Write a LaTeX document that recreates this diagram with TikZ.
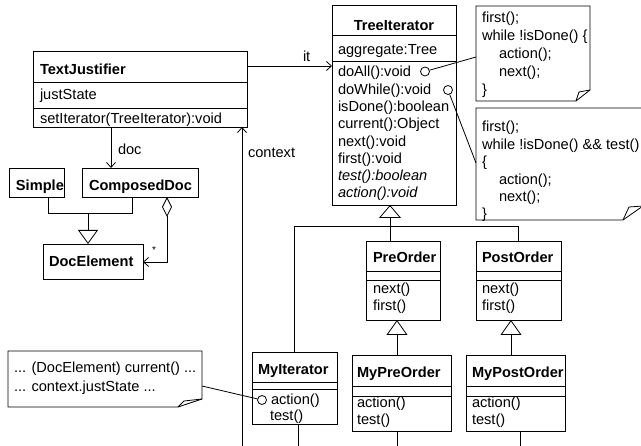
\documentclass[tikz,border=0pt]{standalone}
\usepackage{fontspec}
\setmainfont{Liberation Sans}
\usetikzlibrary{arrows.meta,fit}
\newcommand\umlfont{\fontsize{14.6}{17.5}\selectfont}
\newcommand\classrule[2]{\draw[conn] (#1.west |- 0,#2) -- (#1.east |- 0,#2);}
\begin{document}
\begin{tikzpicture}[x=1pt,y=-1pt,
  every node/.style={font=\umlfont},
  conn/.style={line width=0.8pt, draw=black},
  cls/.style={draw=black, line width=0.8pt, inner sep=0pt, outer sep=0pt},
  spot/.style={inner sep=0pt, outer sep=0pt},
  lbl/.style={anchor=base west, inner sep=0pt, outer sep=0pt},
  ttl/.style={lbl, font=\umlfont\bfseries},
  itl/.style={lbl, font=\umlfont\itshape},
  hook/.style={circle, draw=black, line width=0.8pt, minimum size=9pt, inner sep=0pt},
  vee/.style={conn, -{Straight Barb[length=5pt,width=9pt]}},
  inh/.style={conn, -{Triangle[open,length=13pt,width=22pt]}},
  agg/.style={conn, {Diamond[open,length=20pt,width=10pt]}-{Straight Barb[length=5pt,width=9pt]}}
]
\fill[white] (0,0) rectangle (641,446);
\useasboundingbox (0,0) rectangle (641,446);

% ---------- TextJustifier ----------
\node[cls, fit={(33,51)(247,127)}] (tj) {};
\classrule{tj}{82}
\classrule{tj}{108}
\node[ttl] (tj-name) at (40,75) {TextJustifier};
\node[lbl] (tj-attr) at (40,100) {justState};
\node[lbl] (tj-op) at (40,124) {setIterator(TreeIterator):void};

% ---------- TreeIterator ----------
\node[cls, fit={(332,5)(456,205)}] (ti) {};
\classrule{ti}{35}
\classrule{ti}{61}
\node[ttl, anchor=base] (ti-name) at (394,31) {TreeIterator};
\node[lbl] (ti-attr) at (338,55) {aggregate:Tree};
\node[lbl] (ti-m1) at (338,77) {doAll():void};
\node[lbl] (ti-m2) at (338,94.3) {doWhile():void};
\node[lbl] (ti-m3) at (338,111.6) {isDone():boolean};
\node[lbl] (ti-m4) at (338,128.9) {current():Object};
\node[lbl] (ti-m5) at (338,146.2) {next():void};
\node[lbl] (ti-m6) at (338,163.5) {first():void};
\node[itl] (ti-m7) at (338,180.8) {test():boolean};
\node[itl] (ti-m8) at (338,198) {action():void};
\node[hook] (c1) at (425,71.5) {};
\node[hook] (c2) at (448,90) {};

% ---------- document classes ----------
\node[cls, fit={(9,168)(64,197)}] (si) {};
\node[ttl] (si-name) at (16,191) {Simple};
\node[cls, fit={(82,168)(198,197)}] (cd) {};
\node[ttl] (cd-name) at (89,191) {ComposedDoc};
\node[cls, fit={(43,244)(143,279)}] (de) {};
\node[ttl] (de-name) at (49,267) {DocElement};

% ---------- PreOrder / PostOrder ----------
\node[cls, fit={(366,241)(440,320)}] (pre) {};
\classrule{pre}{271}
\classrule{pre}{280}
\node[ttl] (pre-name) at (373,263) {PreOrder};
\node[lbl] (pre-m1) at (373,294) {next()};
\node[lbl] (pre-m2) at (373,311) {first()};

\node[cls, fit={(476,241)(561,320)}] (post) {};
\classrule{post}{271}
\classrule{post}{280}
\node[ttl] (post-name) at (482,263) {PostOrder};
\node[lbl] (post-m1) at (482,294) {next()};
\node[lbl] (post-m2) at (482,311) {first()};

% ---------- concrete iterators ----------
\node[cls, fit={(252,352)(337,424)}] (mit) {};
\classrule{mit}{382}
\classrule{mit}{389}
\node[ttl] (mit-name) at (258,375) {MyIterator};
\node[lbl] (mit-m1) at (271,405) {action()};
\node[lbl] (mit-m2) at (270,421) {test()};
\node[hook] (c3) at (262,400) {};

\node[cls, fit={(352,355)(451,431)}] (mpre) {};
\classrule{mpre}{386}
\classrule{mpre}{396}
\node[ttl] (mpre-name) at (357,378) {MyPreOrder};
\node[lbl] (mpre-m1) at (357,408) {action()};
\node[lbl] (mpre-m2) at (357,425) {test()};

\node[cls, fit={(466,355)(565,431)}] (mpost) {};
\classrule{mpost}{386}
\classrule{mpost}{396}
\node[ttl] (mpost-name) at (472,378) {MyPostOrder};
\node[lbl] (mpost-m1) at (472,408) {action()};
\node[lbl] (mpost-m2) at (472,425) {test()};

% ---------- notes ----------
\node[spot, fit={(476,6)(590,101)}] (n1) {};
\draw[conn] (476,6) -- (590,6) -- (590,90) -- (576,101) -- (476,101) -- cycle;
\draw[conn] (590,90) -- (579,92) -- (576,101);
\node[lbl] (n1-l1) at (482,23) {first();};
\node[lbl] (n1-l2) at (482,41) {while !isDone() \{};
\node[lbl] (n1-l3) at (499,59) {action();};
\node[lbl] (n1-l4) at (499,77) {next();};
\node[lbl] (n1-l5) at (482,95) {\}};

\node[spot, fit={(476,108)(643,220)}] (n2) {};
\draw[conn] (476,108) -- (643,108) -- (643,206) -- (623,220) -- (476,220) -- cycle;
\draw[conn] (643,206) -- (629,207) -- (623,220);
\node[lbl] (n2-l1) at (482,132) {first();};
\node[lbl] (n2-l2) at (482,149.5) {while !isDone() \&\& test()};
\node[lbl] (n2-l3) at (482,167) {\{};
\node[lbl] (n2-l4) at (499,184.5) {action();};
\node[lbl] (n2-l5) at (499,202) {next();};
\node[lbl] (n2-l6) at (482,218.5) {\}};

\node[spot, fit={(8,351)(202,407)}] (n3) {};
\draw[conn] (8,351) -- (202,351) -- (202,399) -- (178,407) -- (8,407) -- cycle;
\draw[conn] (202,399) -- (184,401) -- (178,407);
\node[lbl] (n3-l1) at (14,373) {... (DocElement) current() ...};
\node[lbl] (n3-l2) at (14,392) {... context.justState ...};

% ---------- associations ----------
\draw[vee] (tj.east |- 0,66) -- (ti.west |- 0,66);
\node[lbl] (lab-it) at (303,62) {it};

\draw[vee] (tj.south -| 111,0) -- (cd.north -| 111,0);
\node[lbl] (lab-doc) at (118,155) {doc};

\coordinate (ctx) at (242,446);
\draw[vee] (ctx) -- (ctx |- tj.south);
\node[lbl] (lab-ctx) at (248,158) {context};

\draw[agg] (cd.south -| 167,0) -- (167,262) -- (de.east |- 0,262);
\node[lbl, font=\fontsize{10}{12}\selectfont] (lab-many) at (152,254) {*};

% ---------- generalizations ----------
\coordinate (dj) at (88,213);
\draw[conn] (si.south -| 48,0) -- (48,213) -- (132,213) -- (cd.south -| 132,0);
\draw[conn, -{Triangle[open,length=14pt,width=20pt]}] (dj) -- (dj |- de.north);

\coordinate (tj2) at (390,226);
\draw[inh] (tj2) -- (tj2 |- ti.south);
\draw[conn] (mit.north) -- (mit.north |- tj2) -- (post.north |- tj2) -- (post.north);
\draw[conn] (tj2) -- (tj2 |- pre.north);

\draw[conn, -{Triangle[open,length=15pt,width=21pt]}] (mpre.north -| 397,0) -- (pre.south -| 397,0);
\draw[conn, -{Triangle[open,length=15pt,width=21pt]}] (mpost.north -| 511,0) -- (post.south -| 511,0);

% ---------- note links ----------
\draw[conn] (c1) -- (n1.west |- 0,57);
\draw[conn] (c2) -- (n2.west |- 0,163);
\draw[conn] (n3.east |- 0,386) -- (c3);

% ---------- lines leaving the page ----------
\coordinate (b1) at (298,446);
\coordinate (b2) at (397,446);
\coordinate (b3) at (520,446);
\draw[conn] (mit.south -| b1) -- (b1);
\draw[conn] (mpre.south -| b2) -- (b2);
\draw[conn] (mpost.south -| b3) -- (b3);
\end{tikzpicture}
\end{document}
